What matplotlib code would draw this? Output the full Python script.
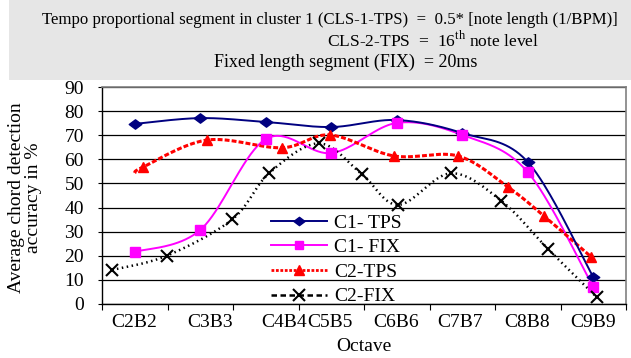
import numpy as np
import matplotlib
matplotlib.use("Agg")
import matplotlib.pyplot as plt
from matplotlib.lines import Line2D
from matplotlib.patches import Rectangle
from matplotlib.path import Path
import matplotlib.transforms as mtransforms

plt.rcParams['font.family'] = ['Liberation Serif', 'DejaVu Serif']
plt.rcParams['mathtext.fontset'] = 'custom'
plt.rcParams['mathtext.rm'] = 'Liberation Serif'

# ---------------- data ----------------
categories = ["C2B2", "C3B3", "C4B4", "C5B5", "C6B6", "C7B7", "C8B8", "C9B9"]

c1_tps = [74.7, 77.1, 75.5, 73.4, 76.3, 70.9, 58.9, 11.2]
c1_fix = [21.6, 30.7, 68.4, 62.6, 75.1, 70.1, 54.7, 7.0]

# C2 series are drawn at fractional category positions
c2_tps_x = [0.0, 0.126, 1.103, 2.248, 2.981, 3.958, 4.935, 5.698, 6.248, 6.966]
c2_tps_y = [54.3, 56.8, 68.0, 64.8, 70.1, 61.4, 61.4, 48.5, 36.5, 19.6]

c2_fix_x = [-0.347, 0.488, 1.489, 2.05, 2.813, 3.465, 4.024, 4.824, 5.592, 6.314, 7.053]
c2_fix_y = [14.1, 20.0, 35.1, 54.2, 66.6, 53.9, 41.1, 54.2, 42.9, 22.7, 2.8]

series_names = ["C1- TPS", "C1- FIX", "C2-TPS", "C2-FIX"]
yticks = list(range(0, 91, 10))

header_lines = [
    "Tempo proportional segment in cluster 1 (CLS-1-TPS)  =  0.5* [note length (1/BPM)]",
    "CLS-2-TPS  =  16$^{\\rm th}$ note level",
    "Fixed length segment (FIX)  = 20ms",
]

# ---------------- helpers ----------------
def excel_smooth(x, y, n=40):
    pts = np.column_stack([x, y]).astype(float)
    out = []
    for i in range(len(pts) - 1):
        p0 = pts[i - 1] if i > 0 else pts[i]
        p1 = pts[i]
        p2 = pts[i + 1]
        p3 = pts[i + 2] if i + 2 < len(pts) else pts[i + 1]
        c1 = p1 + (p2 - p0) / 6.0
        c2 = p2 - (p3 - p1) / 6.0
        t = np.linspace(0, 1, n)[:, None]
        seg = (1 - t) ** 3 * p1 + 3 * (1 - t) ** 2 * t * c1 + 3 * (1 - t) * t ** 2 * c2 + t ** 3 * p2
        out.append(seg if i == 0 else seg[1:])
    s = np.vstack(out)
    return s[:, 0], s[:, 1]

diamond = Path([(-1, 0), (0, 0.75), (1, 0), (0, -0.75), (-1, 0)],
               [Path.MOVETO, Path.LINETO, Path.LINETO, Path.LINETO, Path.CLOSEPOLY])

W, H = 631, 358
fig = plt.figure(figsize=(W / 100, H / 100), dpi=100)

# header box
fig.patches.append(Rectangle((9 / W, 1 - 80 / H), 1 - 9 / W, 80 / H,
                             transform=fig.transFigure, facecolor='#e6e6e6',
                             edgecolor='none', zorder=0))
hdr_pos = [(42, 24), (327, 46), (214, 67)]
hdr_size = [12.1, 12.6, 13.0]
for (hx, hy), fs, txt in zip(hdr_pos, hdr_size, header_lines):
    fig.text(hx / W, 1 - hy / H, txt, ha='left', va='baseline', fontsize=fs, color='black')

ax = fig.add_axes([102 / W, 1 - 304 / H, (626 - 102) / W, (304 - 87) / H])
ax.set_xlim(-0.5, 7.5)
ax.set_ylim(0, 90)

xc = np.arange(len(categories))

# series
col_tps1 = '#000080'
col_fix1 = '#FF00FF'
col_tps2 = '#FF0000'
col_fix2 = '#000000'

sx, sy = excel_smooth(xc, c1_tps)
ax.plot(sx, sy, color=col_tps1, lw=1.4, zorder=5)
ax.plot(xc, c1_tps, ls='none', marker=diamond, ms=9, color=col_tps1, zorder=6)

sx, sy = excel_smooth(xc, c1_fix)
ax.plot(sx, sy, color=col_fix1, lw=1.4, zorder=4)
ax.plot(xc, c1_fix, ls='none', marker='s', ms=7, color=col_fix1, zorder=6)

sx, sy = excel_smooth(c2_tps_x, c2_tps_y)
ax.plot(sx, sy, color=col_tps2, lw=2.2, ls=(0, (1.6, 0.7)), zorder=4)
ax.plot(c2_tps_x[1:], c2_tps_y[1:], ls='none', marker='^', ms=7.5, color=col_tps2, zorder=6)

sx, sy = excel_smooth(c2_fix_x, c2_fix_y)
ax.plot(sx, sy, color=col_fix2, lw=1.8, ls=(0, (0.6, 1.4)), zorder=4)
ax.plot(c2_fix_x, c2_fix_y, ls='none', marker='x', ms=8, mew=1.5, color=col_fix2, zorder=6)

# axes styling
ax.set_yticks(yticks)
ax.yaxis.grid(True, color='black', lw=0.9)
ax.set_axisbelow(True)
for s in ['top', 'right']:
    ax.spines[s].set_color('#808080')
    ax.spines[s].set_linewidth(1.2)
for s in ['left', 'bottom']:
    ax.spines[s].set_color('black')
    ax.spines[s].set_linewidth(1.0)
ax.tick_params(axis='y', direction='out', length=3, width=0.8, pad=10, labelsize=14)

ax.set_xticks(np.arange(-0.5, len(categories), 1.0))
ax.set_xticklabels([])
ax.tick_params(axis='x', which='major', direction='out', length=4, width=0.8)
ax.set_xticks(xc, minor=True)
ax.set_xticklabels(categories, minor=True)
ax.tick_params(axis='x', which='minor', length=0, pad=7, labelsize=14)
label_shift_px = [-1, 10, 18, -1, -1, -2, -1, 0]
for lab, dxp in zip(ax.get_xticklabels(minor=True), label_shift_px):
    lab.set_transform(lab.get_transform() + mtransforms.ScaledTranslation(dxp / 100, 0, fig.dpi_scale_trans))

ax.set_xlabel("Octave", fontsize=14, labelpad=5)
fig.text(25 / W, 1 - 198 / H, "Average chord detection\naccuracy in %", rotation=90,
         ha='center', va='center', multialignment='center', fontsize=14, linespacing=0.95)

handles = [
    Line2D([], [], color=col_tps1, lw=1.4, marker=diamond, ms=8),
    Line2D([], [], color=col_fix1, lw=1.4, marker='s', ms=6),
    Line2D([], [], color=col_tps2, lw=2.0, ls=(0, (1.0, 0.6)), marker='^', ms=7),
    Line2D([], [], color=col_fix2, lw=1.8, ls=(0, (2.2, 1.4)), marker='x', ms=8, mew=1.5),
]
leg = ax.legend(handles, series_names, loc='upper left',
                bbox_to_anchor=(271 / W, 1 - 214 / H), bbox_transform=fig.transFigure,
                frameon=False, fontsize=14, handlelength=2.9, handletextpad=0.35,
                labelspacing=0.36, borderpad=0, borderaxespad=0)
leg.set_zorder(7)

fig.savefig("out.png", dpi=100)
